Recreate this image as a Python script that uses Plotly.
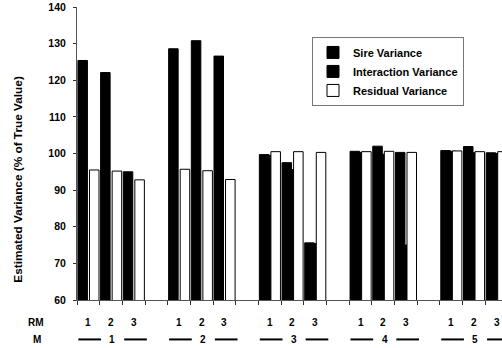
import plotly.graph_objects as go

# ---- data ----
M_labels = ["1", "2", "3", "4", "5"]
RM_labels = ["1", "2", "3"]
series_names = ["Sire Variance", "Interaction Variance", "Residual Variance"]
sire = [125.4, 122.1, 95.0, 128.6, 130.8, 126.6, 99.7, 97.5, 75.6,
        100.6, 102.0, 100.3, 100.8, 101.9, 100.2]
interaction = [None, None, None, None, None, None, 99.5, 95.6, 75.4,
               100.3, 99.8, 75.0, 100.6, 100.2, 100.0]
residual = [95.5, 95.2, 92.8, 95.7, 95.3, 92.9, 100.5, 100.5, 100.3,
            100.5, 100.6, 100.3, 100.7, 100.5, 100.5]
y_ticks = [60, 70, 80, 90, 100, 110, 120, 130, 140]
y_title = "Estimated Variance (% of True Value)"

# ---- category positions: 3 RM per M, one empty slot between M groups ----
xpos = [g * 4 + r for g in range(len(M_labels)) for r in range(len(RM_labels))]
n = len(xpos)

FONT = "Liberation Sans, Arial, sans-serif"

fig = go.Figure()
styles = [
    (sire, "black", -0.46),
    (interaction, "black", -0.20),
    (residual, "white", 0.05),
]
for name, (vals, col, off) in zip(series_names, styles):
    fig.add_trace(go.Bar(
        x=xpos, y=vals, name=name,
        offset=[off] * n, width=[0.42] * n,
        marker=dict(color=col, line=dict(color="black", width=1)),
    ))

L, R, T, B = 77, 0, 7, 47.5
W, H = 502, 348
plot_w = W - L - R
plot_h = H - T - B
cat_px = 22.68
x_end = -0.5 + plot_w / cat_px


def px_to_paper_x(px):
    return (px - L) / plot_w


def px_to_paper_y(py):
    return (H - B - py) / plot_h


lab_font = dict(size=10, family=FONT, color="black")
annotations = []
# RM row labels
for xi, lab in zip(xpos, RM_labels * len(M_labels)):
    annotations.append(dict(x=xi, y=px_to_paper_y(323), xref="x", yref="paper", text=f"<b>{lab}</b>",
                            showarrow=False, xanchor="center", yanchor="middle", font=lab_font))
annotations.append(dict(x=px_to_paper_x(36), y=px_to_paper_y(323), xref="paper", yref="paper",
                        text="<b>RM</b>", showarrow=False, xanchor="center", yanchor="middle",
                        font=lab_font))
annotations.append(dict(x=px_to_paper_x(37), y=px_to_paper_y(340), xref="paper", yref="paper",
                        text="<b>M</b>", showarrow=False, xanchor="center", yanchor="middle",
                        font=lab_font))
# y-axis title (placed where the reference has it)
annotations.append(dict(x=px_to_paper_x(18), y=px_to_paper_y(180), xref="paper", yref="paper",
                        text=f"<b>{y_title}</b>", textangle=-90, showarrow=False,
                        xanchor="center", yanchor="middle",
                        font=dict(size=11.8, family=FONT, color="black")))

shapes = []
yM = px_to_paper_y(340)
for g, lab in enumerate(M_labels):
    c = g * 4 + 1
    annotations.append(dict(x=c + 0.06, y=yM, xref="x", yref="paper", text=f"<b>{lab}</b>",
                            showarrow=False, xanchor="center", yanchor="middle", font=lab_font))
    for a, b in [(c - 1.44, c - 0.44), (c + 0.58, c + 1.58)]:
        shapes.append(dict(type="line", xref="x", yref="paper", x0=a, x1=b, y0=yM, y1=yM,
                           line=dict(color="black", width=2)))

fig.update_layout(
    width=W, height=H,
    margin=dict(l=L, r=R, t=T, b=B, autoexpand=False),
    paper_bgcolor="white", plot_bgcolor="white",
    barmode="overlay",
    font=dict(family=FONT, color="black"),
    showlegend=True,
    legend=dict(x=px_to_paper_x(312), y=px_to_paper_y(37), xanchor="left", yanchor="top",
                bgcolor="white", bordercolor="#777", borderwidth=1,
                font=dict(size=11, family=FONT, weight="bold", color="black"),
                itemwidth=30, tracegroupgap=0),
    xaxis=dict(range=[-0.5, x_end], showgrid=False, zeroline=False,
               showline=True, linecolor="#555", linewidth=1,
               tickvals=[i - 0.5 for i in range(20)], ticks="outside", ticklen=4,
               tickcolor="#333", showticklabels=False),
    yaxis=dict(range=[60, 140], tickvals=y_ticks, showgrid=False, zeroline=False,
               showline=True, linecolor="#555", linewidth=1,
               ticks="outside", ticklen=3, tickcolor="#333",
               ticklabelstandoff=5,
               tickfont=dict(size=10.5, family=FONT, weight="bold", color="black")),
    annotations=annotations,
    shapes=shapes,
)

fig.write_html("out.html")
